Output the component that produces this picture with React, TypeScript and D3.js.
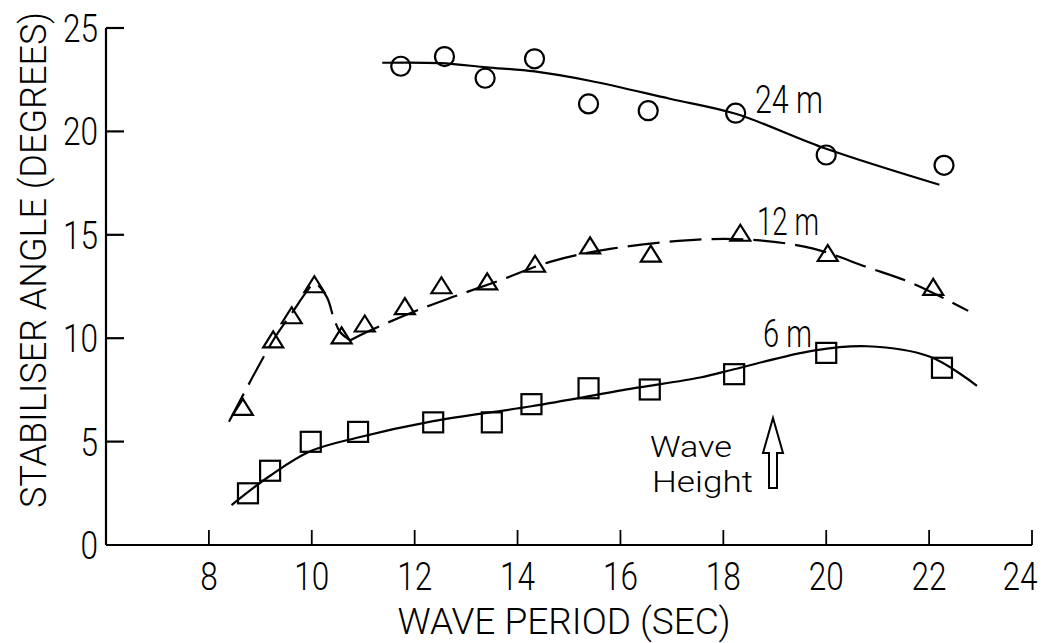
import React from 'react';
import * as d3 from 'd3';

// wave period (sec) vs stabiliser angle (degrees), three wave heights
const period24 = [11.73, 12.58, 13.37, 14.33, 15.38, 16.54, 18.24, 20.0, 22.29];
const angle24 = [23.15, 23.62, 22.57, 23.51, 21.33, 21.0, 20.88, 18.86, 18.36];

const period12 = [8.66, 9.25, 9.61, 10.05, 10.58, 11.03, 11.81, 12.52, 13.41, 14.34, 15.41, 16.59, 18.33, 20.03, 22.08];
const angle12 = [6.68, 9.94, 11.11, 12.61, 10.14, 10.71, 11.55, 12.56, 12.75, 13.6, 14.49, 14.09, 15.1, 14.12, 12.48];

const period6 = [8.76, 9.19, 9.98, 10.9, 12.36, 13.5, 14.27, 15.38, 16.57, 18.21, 20.0, 22.25];
const angle6 = [2.5, 3.59, 4.99, 5.47, 5.93, 5.93, 6.81, 7.58, 7.52, 8.26, 9.29, 8.57];

// hand-drawn fitted curves
const fit24X = [11.37, 12.5, 13.4, 14.33, 15.4, 16.96, 18.24, 20.0, 22.2];
const fit24Y = [23.32, 23.3, 23.1, 22.9, 22.45, 21.58, 20.85, 19.16, 17.42];

const fit12aX = [8.39, 9.25, 9.61, 9.9, 10.05, 10.29, 10.42, 10.55, 10.75];
const fit12aY = [5.96, 9.9, 11.2, 12.25, 12.65, 12.0, 11.03, 10.3, 9.9];
const fit12bX = [10.75, 11.07, 11.97, 12.75, 13.66, 14.63, 15.83, 17.61, 18.71, 19.75, 20.79, 21.69, 22.76];
const fit12bY = [9.9, 10.3, 11.27, 12.0, 12.8, 13.69, 14.33, 14.78, 14.73, 14.33, 13.44, 12.64, 11.32];

const fit6X = [8.44, 9.19, 9.98, 10.9, 12.36, 14.27, 16.19, 17.55, 18.21, 19.75, 20.79, 22.02, 22.93];
const fit6Y = [1.93, 3.35, 4.54, 5.2, 5.99, 6.71, 7.55, 8.1, 8.5, 9.4, 9.61, 9.1, 7.7];

const xTicks = [8, 10, 12, 14, 16, 18, 20, 22, 24];
const yTicks = [0, 5, 10, 15, 20, 25];

const FONT = 'Roboto, "Liberation Sans", "DejaVu Sans", sans-serif';
const DIGIT_W = 17.5;

const zip = (xs: number[], ys: number[]) => xs.map((v, i) => [v, ys[i]] as [number, number]);

export default function App() {
  const width = 1050;
  const height = 643;

  const x = d3.scaleLinear().domain([6, 24]).range([106, 1032]);
  const y = d3.scaleLinear().domain([0, 25]).range([545, 28]);

  const line = d3.line<[number, number]>()
    .x(d => x(d[0]))
    .y(d => y(d[1]))
    .curve(d3.curveCatmullRom.alpha(0.5));

  const x0 = x(6);
  const y0 = y(0);

  return (
    <svg width={width} height={height} style={{ position: 'absolute', left: 0, top: 0, background: '#fff' }}
      fontFamily={FONT} fontWeight={300}>
      {/* axes */}
      <g stroke="#000" strokeWidth={2.2} fill="none">
        <line x1={x0} y1={y(25)} x2={x0} y2={y0} />
        <line x1={x0} y1={y0} x2={x(24)} y2={y0} />
        {yTicks.filter(t => t > 0).map(t => (
          <line key={t} x1={x0} y1={y(t)} x2={x0 + 18} y2={y(t)} />
        ))}
        {xTicks.map(t => (
          <line key={t} x1={x(t)} y1={y0} x2={x(t)} y2={y0 - 15} strokeWidth={1.8} />
        ))}
      </g>

      {/* tick labels */}
      <g fontSize={38} fill="#000">
        {yTicks.map(t => (
          <text key={t} x={98} y={y(t) + 14} textAnchor="end"
            textLength={String(t).length * DIGIT_W} lengthAdjust="spacingAndGlyphs">{t}</text>
        ))}
        {xTicks.map(t => (
          <text key={t} x={t === 24 ? x(t) - 12 : x(t)} y={590} textAnchor="middle"
            textLength={String(t).length * DIGIT_W} lengthAdjust="spacingAndGlyphs">{t}</text>
        ))}
      </g>

      {/* axis titles */}
      <text x={564} y={634} textAnchor="middle" fontSize={37} textLength={333} lengthAdjust="spacingAndGlyphs">
        WAVE PERIOD (SEC)
      </text>
      <text transform="translate(46,260) rotate(-90)" textAnchor="middle" fontSize={36}
        textLength={496} lengthAdjust="spacingAndGlyphs">
        STABILISER ANGLE (DEGREES)
      </text>

      {/* fitted curves */}
      <g fill="none" stroke="#000" strokeWidth={2.2}>
        <path d={line(zip(fit24X, fit24Y)) || ''} />
        <path d={line(zip(fit12aX, fit12aY)) || ''} strokeDasharray="32 10" />
        <path d={line(zip(fit12bX, fit12bY)) || ''} strokeDasharray="32 10" />
        <path d={line(zip(fit6X, fit6Y)) || ''} />
      </g>

      {/* markers */}
      <g fill="none" stroke="#000" strokeWidth={2.2}>
        {period24.map((p, i) => (
          <circle key={'c' + i} cx={x(p)} cy={y(angle24[i])} r={9.5} />
        ))}
        {period12.map((p, i) => {
          const cx = x(p);
          const cy = y(angle12[i]);
          return <path key={'t' + i} d={`M${cx},${cy - 8}L${cx + 10},${cy + 8}L${cx - 10},${cy + 8}Z`} />;
        })}
        {period6.map((p, i) => (
          <rect key={'s' + i} x={x(p) - 10} y={y(angle6[i]) - 10} width={20} height={20} />
        ))}
      </g>

      {/* curve labels */}
      <g fontSize={38} fill="#000">
        <text x={755} y={113} textLength={68} lengthAdjust="spacingAndGlyphs">24 m</text>
        <text x={757} y={235} textLength={62} lengthAdjust="spacingAndGlyphs">12 m</text>
        <text x={763} y={347} textLength={49} lengthAdjust="spacingAndGlyphs">6 m</text>
      </g>

      {/* wave height note */}
      <g fontSize={29} fill="#000">
        <text x={650} y={457} textLength={82} lengthAdjust="spacingAndGlyphs">Wave</text>
        <text x={652} y={492} textLength={101} lengthAdjust="spacingAndGlyphs">Height</text>
      </g>
      <path d="M773,418 L783,453 L777,453 L777,488 L769,488 L769,453 L763,453 Z"
        fill="none" stroke="#000" strokeWidth={2} />
    </svg>
  );
}
